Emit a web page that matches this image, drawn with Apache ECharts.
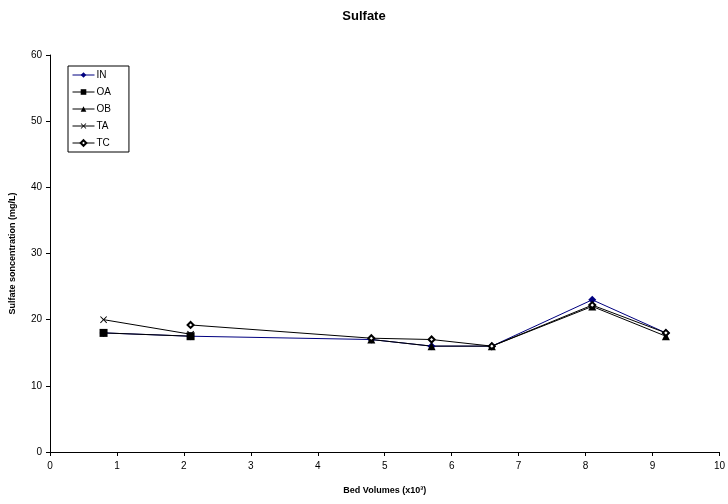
<!DOCTYPE html>
<html><head><meta charset="utf-8">
<script src="https://cdn.jsdelivr.net/npm/echarts@6/dist/echarts.min.js"></script>
<style>html,body{margin:0;padding:0;background:#fff}#c{width:728px;height:504px}</style>
</head><body><div id="c"></div>
<script>
var xTicks = [0,1,2,3,4,5,6,7,8,9,10];
var yTicks = [0,10,20,30,40,50,60];
var IN = [[0.8,18],[2.1,17.5],[4.8,17],[5.7,16],[6.6,16],[8.1,23],[9.2,18]];
var OA = [[0.8,18],[2.1,17.5]];
var OB = [[4.8,17],[5.7,16],[6.6,16],[8.1,22],[9.2,17.5]];
var TA = [[0.8,20],[2.1,17.8]];
var TC = [[2.1,19.2],[4.8,17.2],[5.7,17],[6.6,16],[8.1,22.2],[9.2,18]];

var xPath = 'path://M0,1L1,0L5,4L9,0L10,1L6,5L10,9L9,10L5,6L1,10L0,9L4,5Z';
var font = 'Liberation Sans, Arial, sans-serif';
function s(name, data, color, symbol, size, extra) {
  var o = {name:name, type:'line', data:data, symbol:symbol, symbolSize:size,
    showAllSymbol:true, animation:false,
    lineStyle:{color:color, width:1}, itemStyle:{color:color}};
  if (extra) for (var k in extra) o[k] = extra[k];
  return o;
}
var chart = echarts.init(document.getElementById('c'));
chart.setOption({
  backgroundColor:'#fff',
  animation:false,
  title:{text:'Sulfate', left:'center', top:5, textStyle:{fontFamily:font, fontSize:13, fontWeight:'bold', color:'#000'}},
  grid:{left:50, right:8, top:55, bottom:52},
  legend:{orient:'vertical', left:68, top:66, itemGap:7, itemWidth:22, itemHeight:7,
    padding:[4,18,4,4], borderColor:'#000', borderWidth:1, borderRadius:0,
    lineStyle:{width:1},
    textStyle:{fontFamily:font, fontSize:10, color:'#000', padding:[0,0,0,-3]},
    data:['IN','OA','OB','TA','TC']},
  xAxis:{type:'value', min:0, max:10, interval:1,
    name:'Bed Volumes (x10³)', nameLocation:'middle', nameGap:34,
    nameTextStyle:{fontFamily:font, fontSize:9, fontWeight:'bold', color:'#000'},
    axisLine:{lineStyle:{color:'#000'}}, axisTick:{length:4, lineStyle:{color:'#000'}},
    axisLabel:{fontFamily:font, fontSize:10, color:'#000', margin:9},
    splitLine:{show:false}},
  yAxis:{type:'value', min:0, max:60, interval:10,
    name:'Sulfate soncentration (mg/L)', nameLocation:'middle', nameGap:33,
    nameTextStyle:{fontFamily:font, fontSize:9, fontWeight:'bold', color:'#000'},
    axisLine:{show:true, lineStyle:{color:'#000'}}, axisTick:{show:true, length:4, lineStyle:{color:'#000'}},
    axisLabel:{fontFamily:font, fontSize:10, color:'#000', margin:8},
    splitLine:{show:false}},
  series:[
    s('IN', IN, '#000080', 'diamond', 8),
    s('OA', OA, '#000', 'rect', 8),
    s('OB', OB, '#000', 'triangle', 8),
    s('TA', TA, '#000', xPath, 7),
    s('TC', TC, '#000', 'emptyDiamond', 6, {itemStyle:{color:'#000', borderColor:'#000', borderWidth:1}})
  ]
});
</script></body></html>
